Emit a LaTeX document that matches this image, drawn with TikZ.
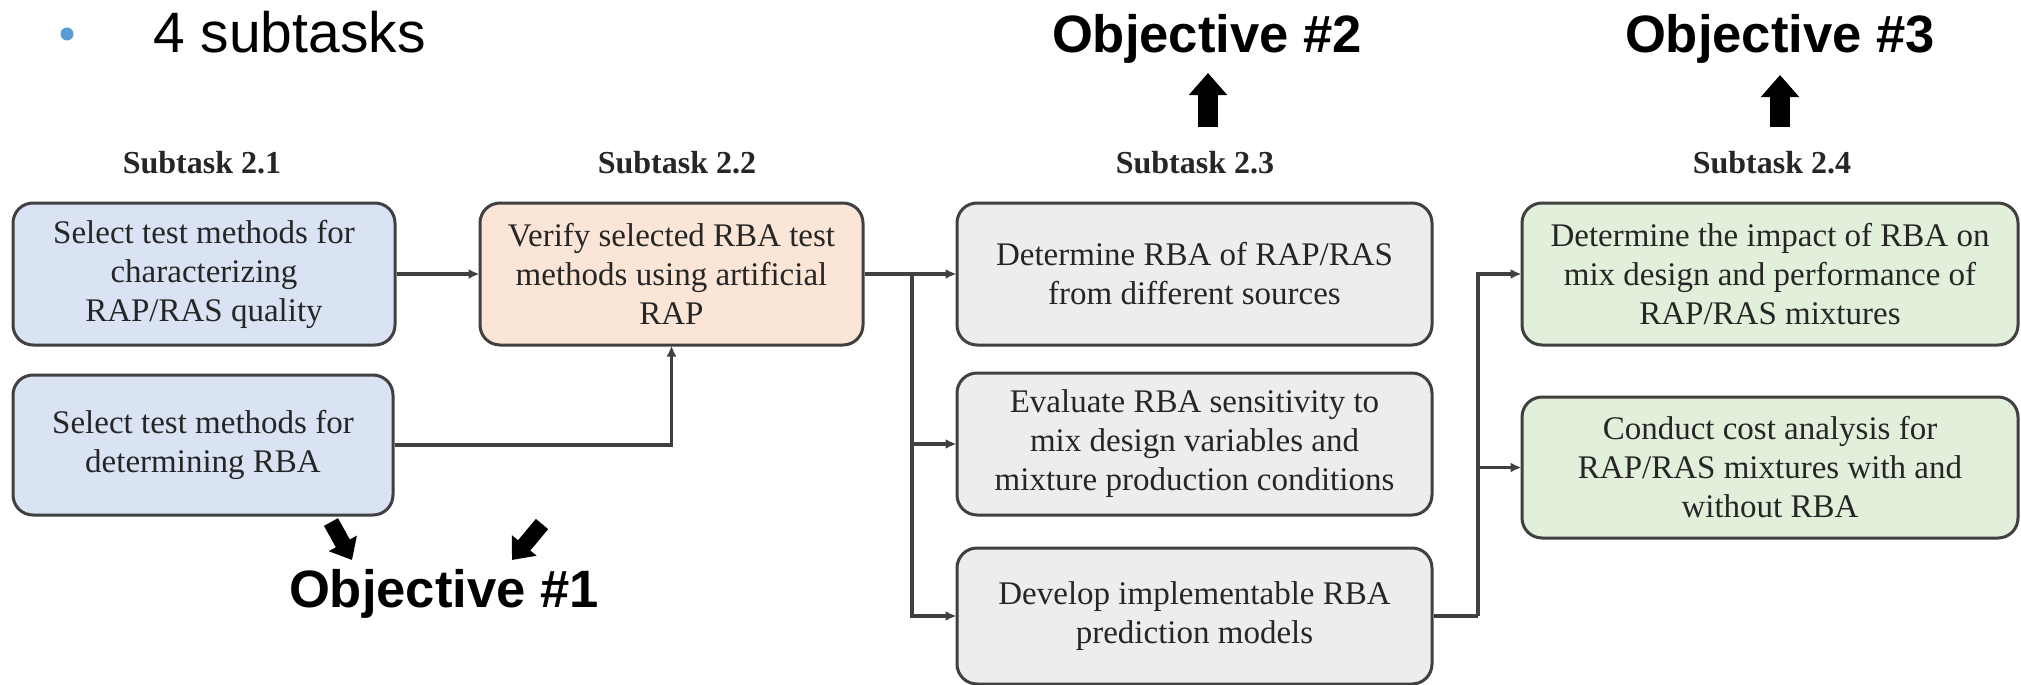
\documentclass[tikz,border=0pt]{standalone}
\usepackage{fontspec}
\setmainfont{Liberation Serif}
\newfontfamily\sansf{Liberation Sans}
\usetikzlibrary{arrows.meta}
\definecolor{bluefill}{HTML}{DAE3F3}
\definecolor{orangefill}{HTML}{FBE5D6}
\definecolor{grayfill}{HTML}{EDEDED}
\definecolor{greenfill}{HTML}{E2EFDA}
\definecolor{edgecol}{HTML}{404040}
\definecolor{txtcol}{HTML}{262626}
\definecolor{bulletcol}{HTML}{5B9BD5}
\tikzset{
  taskbox/.style={draw=edgecol, line width=3pt, rounded corners=20pt, inner sep=0pt,
    align=center, text=txtcol, font=\fontsize{33}{39}\selectfont},
  subtitle/.style={font=\bfseries\fontsize{32}{36}\selectfont, text=txtcol, anchor=base, inner sep=0pt},
  objtitle/.style={font=\sansf\bfseries\fontsize{52.6}{60}\selectfont, anchor=base, inner sep=0pt},
  wire/.style={draw=edgecol, line width=3.5pt},
  conn/.style={wire, -{Latex[length=11pt,width=10pt]}, shorten >=-1pt},
  blockarrow/.style={draw=black, line width=20pt, -{Triangle[length=22pt,width=37pt]}},
  blockarrowsmall/.style={draw=black, line width=16pt, -{Triangle[length=19pt,width=31pt]}}
}
\begin{document}
\begin{tikzpicture}[x=1pt,y=-1pt]
\useasboundingbox (0,0) rectangle (2021,685);
\fill[white] (0,0) rectangle (2021,685);

% heading
\fill[bulletcol] (67,34) circle (6.5);
\node[font=\sansf\fontsize{57}{64}\selectfont, anchor=base west, inner sep=0pt] (head) at (153,53) {4 subtasks};

% subtask labels
\node[subtitle] (s21) at (202,173) {Subtask 2.1};
\node[subtitle] (s22) at (677,173) {Subtask 2.2};
\node[subtitle] (s23) at (1195,173) {Subtask 2.3};
\node[subtitle] (s24) at (1772,173) {Subtask 2.4};

% objectives
\node[objtitle] (o1) at (444,607) {Objective \#1};
\node[objtitle] (o2) at (1207,53) {Objective \#2};
\node[objtitle] (o3) at (1780,53) {Objective \#3};

% boxes
\node[taskbox, fill=bluefill, minimum width=382pt, minimum height=142pt] (b21) at (204,274)
  {Select test methods for\\characterizing\\RAP/RAS quality};
\node[taskbox, fill=bluefill, minimum width=380pt, minimum height=140pt] (b21b) at (203,445)
  {Select test methods for\\determining RBA};
\node[taskbox, fill=orangefill, minimum width=383pt, minimum height=142pt] (b22) at (671.5,274)
  {Verify selected RBA test\\methods using artificial\\RAP};
\node[taskbox, fill=grayfill, minimum width=475pt, minimum height=142pt] (b23a) at (1194.5,274)
  {Determine RBA of RAP/RAS\\from different sources};
\node[taskbox, fill=grayfill, minimum width=475pt, minimum height=142pt] (b23b) at (1194.5,444)
  {Evaluate RBA sensitivity to\\mix design variables and\\mixture production conditions};
\node[taskbox, fill=grayfill, minimum width=475pt, minimum height=136pt] (b23c) at (1194.5,616)
  {Develop implementable RBA\\prediction models};
\node[taskbox, fill=greenfill, minimum width=496pt, minimum height=142pt] (b24a) at (1770,274)
  {Determine the impact of RBA on\\mix design and performance of\\RAP/RAS mixtures};
\node[taskbox, fill=greenfill, minimum width=496pt, minimum height=141pt] (b24b) at (1770,467.5)
  {Conduct cost analysis for\\RAP/RAS mixtures with and\\without RBA};

% connectors
\coordinate (br1) at (912,274);
\coordinate (br2) at (1478,616);
\draw[conn] (b21.east) -- (b22.west);
\draw[conn] (b21b.east) -| (b22.south);
\draw[wire] (b22.east) -- (br1);
\draw[conn] (br1) -- (b23a.west);
\draw[conn] (br1) |- (b23b.west);
\draw[conn] (br1) |- (b23c.west);
\draw[wire] (b23c.east) -- (br2);
\draw[conn] (br2) |- (b24a.west);
\draw[conn] (br2) |- (b24b.west);

% objective block arrows
\coordinate (a2s) at (1208,127);
\coordinate (a2e) at (1208,73);
\coordinate (a3s) at (1780,127);
\coordinate (a3e) at (1780,75);
\coordinate (a1ls) at (331,522);
\coordinate (a1le) at (352,560);
\coordinate (a1rs) at (542,524);
\coordinate (a1re) at (512,560);
\draw[blockarrow] (a2s) -- (a2e);
\draw[blockarrow] (a3s) -- (a3e);
\draw[blockarrowsmall] (a1ls) -- (a1le);
\draw[blockarrowsmall] (a1rs) -- (a1re);
\end{tikzpicture}
\end{document}
